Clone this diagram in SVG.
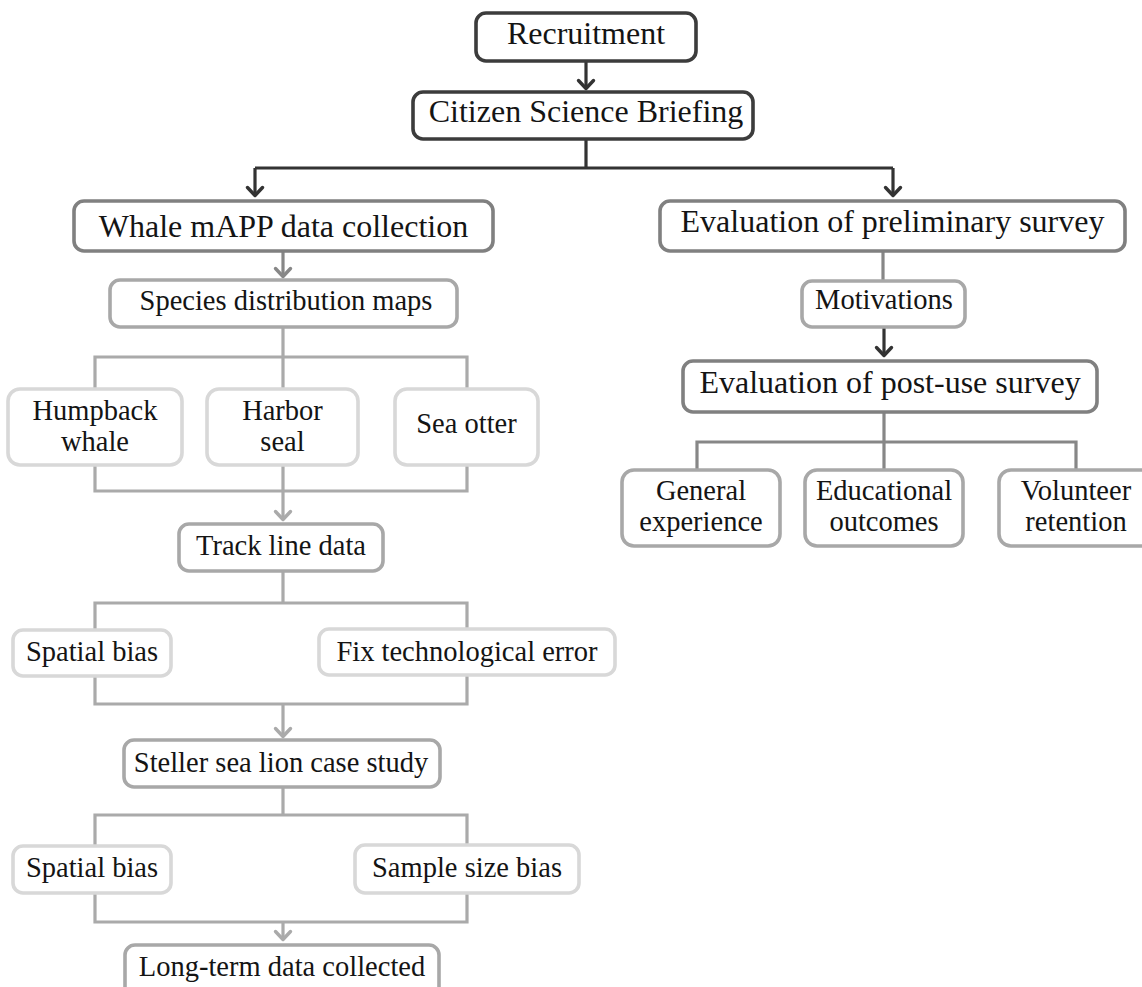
<svg xmlns="http://www.w3.org/2000/svg" width="1142" height="987" viewBox="0 0 1142 987">
<style>
  .t{font-family:"Liberation Serif","DejaVu Serif",serif;fill:#141414;text-anchor:middle}
  .p{font-size:32px}
  .s{font-size:28.5px}
  rect{fill:#fff;stroke-width:3.6}
  .b0{stroke:#3c3c3c}
  .b1{stroke:#808080}
  .b2{stroke:#a8a8a8}
  .b3{stroke:#d8d8d8}
  .c{fill:none;stroke-width:3.2}
  .k{stroke:#333}
  .m{stroke:#878787}
  .g{stroke:#aaaaaa}
</style>
<defs>
  <marker id="ak" viewBox="-12 -10 14 20" markerWidth="14" markerHeight="20" refX="0" refY="0" orient="auto" markerUnits="userSpaceOnUse" overflow="visible">
    <path d="M-8.5,-7.5 L-0.5,0 L-8.5,7.5" fill="none" stroke="#333" stroke-width="3.4" stroke-linecap="round" stroke-linejoin="round"/>
  </marker>
  <marker id="am" viewBox="-12 -10 14 20" markerWidth="14" markerHeight="20" refX="0" refY="0" orient="auto" markerUnits="userSpaceOnUse" overflow="visible">
    <path d="M-8.5,-7.5 L-0.5,0 L-8.5,7.5" fill="none" stroke="#878787" stroke-width="3.4" stroke-linecap="round" stroke-linejoin="round"/>
  </marker>
  <marker id="ag" viewBox="-12 -10 14 20" markerWidth="14" markerHeight="20" refX="0" refY="0" orient="auto" markerUnits="userSpaceOnUse" overflow="visible">
    <path d="M-8.5,-7.5 L-0.5,0 L-8.5,7.5" fill="none" stroke="#aaaaaa" stroke-width="3.4" stroke-linecap="round" stroke-linejoin="round"/>
  </marker>
</defs>

<g id="connectors">
  <path class="c k" d="M586,61 V89" marker-end="url(#ak)"/>
  <path class="c k" d="M586,139 V168 M255,168 H893"/>
  <path class="c k" d="M255,168 V196" marker-end="url(#ak)"/>
  <path class="c k" d="M893,168 V196" marker-end="url(#ak)"/>

  <path class="c m" d="M283,251 V277" marker-end="url(#am)"/>
  <path class="c g" d="M283,327 V389 M95,389 V357 H467 V389"/>
  <path class="c g" d="M95,465 V491 H467 V465 M283,465 V491"/>
  <path class="c g" d="M283,491 V520" marker-end="url(#ag)"/>
  <path class="c g" d="M283,571 V603 M95,630 V603 H467 V629"/>
  <path class="c g" d="M95,676 V704 H467 V675"/>
  <path class="c g" d="M283,704 V737" marker-end="url(#ag)"/>
  <path class="c g" d="M283,787 V815 M95,846 V815 H467 V845"/>
  <path class="c g" d="M95,893 V922 H467 V893"/>
  <path class="c g" d="M283,922 V940" marker-end="url(#ag)"/>

  <path class="c m" d="M883,251 V281"/>
  <path class="c k" d="M884,327 V356" marker-end="url(#ak)"/>
  <path class="c m" d="M884,412 V470 M697,470 V442 H1076 V470"/>
</g>

<g id="recruitment">
  <rect class="b0" x="476" y="13" width="220" height="48" rx="10"/>
  <text class="t p" x="586" y="44">Recruitment</text>
</g>
<g id="briefing">
  <rect class="b0" x="413" y="92" width="340" height="47" rx="10"/>
  <text class="t p" x="586" y="122">Citizen Science Briefing</text>
</g>
<g id="whale-mapp">
  <rect class="b1" x="74" y="201" width="419" height="50" rx="10"/>
  <text class="t p" x="283.5" y="237">Whale mAPP data collection</text>
</g>
<g id="prelim-survey">
  <rect class="b1" x="660" y="201" width="465" height="50" rx="10"/>
  <text class="t p" x="892.5" y="232">Evaluation of preliminary survey</text>
</g>
<g id="species-maps">
  <rect class="b2" x="110" y="280" width="347" height="47" rx="10"/>
  <text class="t s" x="286" y="310">Species distribution maps</text>
</g>
<g id="humpback">
  <rect class="b3" x="8" y="389" width="174" height="76" rx="12"/>
  <text class="t s" x="95" y="420">Humpback</text>
  <text class="t s" x="95" y="451">whale</text>
</g>
<g id="harbor-seal">
  <rect class="b3" x="207" y="389" width="151" height="76" rx="12"/>
  <text class="t s" x="282.5" y="420">Harbor</text>
  <text class="t s" x="282.5" y="451">seal</text>
</g>
<g id="sea-otter">
  <rect class="b3" x="395" y="389" width="143" height="76" rx="12"/>
  <text class="t s" x="466.5" y="433">Sea otter</text>
</g>
<g id="track-line">
  <rect class="b2" x="179" y="524" width="204" height="47" rx="10"/>
  <text class="t s" x="281" y="555">Track line data</text>
</g>
<g id="spatial-bias-1">
  <rect class="b3" x="13" y="630" width="158" height="46" rx="10"/>
  <text class="t s" x="92" y="661">Spatial bias</text>
</g>
<g id="fix-tech-error">
  <rect class="b3" x="319" y="629" width="296" height="46" rx="10"/>
  <text class="t s" x="467" y="661">Fix technological error</text>
</g>
<g id="steller">
  <rect class="b2" x="124" y="740" width="316" height="47" rx="10"/>
  <text class="t s" x="281" y="772">Steller sea lion case study</text>
</g>
<g id="spatial-bias-2">
  <rect class="b3" x="13" y="846" width="158" height="47" rx="10"/>
  <text class="t s" x="92" y="877">Spatial bias</text>
</g>
<g id="sample-size-bias">
  <rect class="b3" x="355" y="845" width="224" height="48" rx="10"/>
  <text class="t s" x="467" y="877">Sample size bias</text>
</g>
<g id="long-term">
  <rect class="b2" x="125" y="945" width="314" height="60" rx="10"/>
  <text class="t s" x="282" y="976">Long-term data collected</text>
</g>
<g id="motivations">
  <rect class="b2" x="802" y="281" width="163" height="46" rx="10"/>
  <text class="t s" x="884" y="309">Motivations</text>
</g>
<g id="postuse-survey">
  <rect class="b1" x="683" y="361" width="414" height="51" rx="10"/>
  <text class="t p" x="890" y="393">Evaluation of post-use survey</text>
</g>
<g id="general-experience">
  <rect class="b2" x="622" y="470" width="158" height="76" rx="12"/>
  <text class="t s" x="701" y="500">General</text>
  <text class="t s" x="701" y="531">experience</text>
</g>
<g id="educational-outcomes">
  <rect class="b2" x="805" y="470" width="158" height="76" rx="12"/>
  <text class="t s" x="884" y="500">Educational</text>
  <text class="t s" x="884" y="531">outcomes</text>
</g>
<g id="volunteer-retention">
  <rect class="b2" x="999" y="470" width="156" height="76" rx="12"/>
  <text class="t s" x="1076" y="500">Volunteer</text>
  <text class="t s" x="1076" y="531">retention</text>
</g>
</svg>
